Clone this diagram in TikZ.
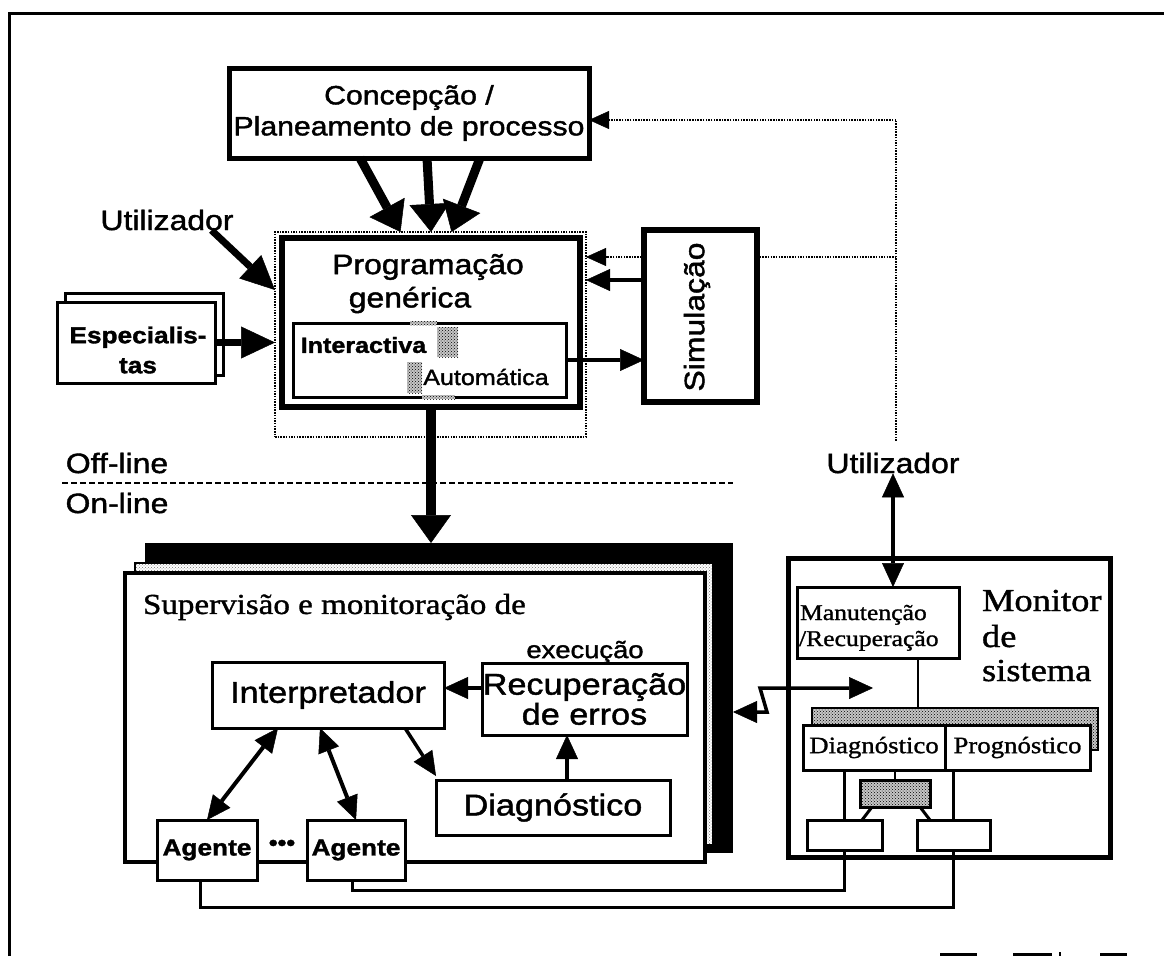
\documentclass[tikz,border=0pt]{standalone}
\usepackage{fontspec}
\setmainfont[FakeStretch=1.14,FakeBold=1.5]{Liberation Sans}
\newfontfamily\serx[FakeStretch=1.14,FakeBold=1.2]{Liberation Serif}
\usetikzlibrary{arrows.meta,patterns}
\newcommand{\myfs}[2]{\fontsize{#1}{#2}\selectfont}
\tikzset{
  every node/.style={inner sep=0pt, outer sep=0pt},
  boxth/.style={draw, line width=5pt, fill=white},
  boxmd/.style={draw, line width=3pt, fill=white},
  dotln/.style={line width=2pt, dash pattern=on 1.5pt off 1.2pt},
  dottip/.style={-{Triangle[length=20pt 0 0, width=18pt 0 0, line width=0.5pt]}},
  bigarr/.style={line width=10pt, -{Triangle[length=28pt 0 0, width=40pt 0 0, line width=0.5pt]}},
  medarr/.style={line width=7pt, -{Triangle[length=34pt 0 0, width=32pt 0 0, line width=0.5pt]}},
  smarr/.style={line width=3.5pt, -{Triangle[length=24pt 0 0, width=22pt 0 0, line width=0.5pt]}},
  dblarr/.style={line width=4pt, {Triangle[length=24pt 0 0, width=22pt 0 0, line width=0.5pt]}-{Triangle[length=24pt 0 0, width=22pt 0 0, line width=0.5pt]}},
  hatch/.style={draw, line width=1.2pt, preaction={fill=gray!45}, pattern=crosshatch dots, pattern color=black},
  lab/.style={font=\myfs{28}{30}},
}
\begin{document}
\begin{tikzpicture}[x=1pt,y=-1pt]
\useasboundingbox (0,0) rectangle (1164,956);
% outer frame
\coordinate (frA) at (9,956);
\coordinate (frB) at (9,13);
\coordinate (frC) at (1164,13);
\draw[line width=3pt] (frA) -- (frB) -- (frC);

% Concepcao
\node[boxth, minimum width=360pt, minimum height=90pt, align=center, font=\myfs{26.5}{31}] (conc) at (409,113) {Concepção /\\Planeamento de processo};

% Programacao
\node[draw, dotln, minimum width=311pt, minimum height=205pt] (progo) at (430.5,334.5) {};
\node[draw, line width=6pt, minimum width=298pt, minimum height=169pt] (progi) at (431,322.5) {};
\node[lab] (progt1) at (428,267) {Programação};
\node[lab] (progt2) at (410,300) {genérica};
\node[boxmd, minimum width=273pt, minimum height=74pt] (mode) at (429.5,360) {};
\node[hatch, draw=none, minimum width=27pt, minimum height=4pt] (h3) at (423.5,323) {};
\node[hatch, draw=none, minimum width=33pt, minimum height=4pt] (h4) at (438.5,397) {};
\node[font=\bfseries\myfs{22}{24}] (inter) at (363.5,345) {Interactiva};
\node[font=\myfs{22}{24}] (auto) at (486,377) {Automática};
\node[hatch, draw=none, minimum width=21pt, minimum height=30pt] (h1) at (447.5,342) {};
\node[hatch, draw=none, minimum width=15pt, minimum height=31pt] (h2) at (414.5,377.5) {};

% arrows from Concepcao
\draw[bigarr, line width=9pt] ([xshift=-49pt]conc.south) -- ([xshift=-30pt]progo.north);
\draw[bigarr, line width=9pt] ([xshift=18pt]conc.south) -- ([xshift=0.5pt]progo.north);
\draw[bigarr, line width=9pt] ([xshift=71pt]conc.south) -- ([xshift=21pt]progo.north);

% Utilizador (left)
\node[lab] (utl) at (167,220) {Utilizador};
\draw[medarr] ([xshift=-22pt]utl.south east) -- ([yshift=44.5pt]progo.west);

% Especialistas
\node[boxmd, minimum width=158pt, minimum height=82pt] (espb) at (144,334) {};
\node[boxmd, minimum width=158pt, minimum height=81pt] (espf) at (136,342.5) {};
\node[font=\bfseries\myfs{23}{30}, align=center] (espt) at (138,350) {Especialis-\\tas};
\draw[medarr] (espf.east) -- (espf.east -| progo.west);

% Simulacao
\node[boxth, line width=6pt, minimum width=113pt, minimum height=172pt] (sim) at (700.5,316) {};
\node[lab, rotate=90] (simt) at (697,317) {Simulação};
\draw[dotln, dottip] ([yshift=59pt]sim.west) -- ([yshift=59pt]sim.west -| progo.east);
\draw[smarr] ([yshift=36pt]sim.west) -- ([yshift=36pt]sim.west -| progo.east);
\draw[smarr] (mode.east) -- (mode.east -| sim.west);

% feedback dotted line
\coordinate (vtop) at (896,120);
\node[lab] (utr) at (893,463) {Utilizador};
\draw[dotln] ([yshift=12pt]utr.north -| vtop) -- (vtop);
\draw[dotln, dottip] (vtop) -- (vtop -| conc.east);
\draw[dotln] ([yshift=59pt]sim.east) -- ([yshift=59pt]sim.east -| vtop);

% Off-line / On-line
\node[lab] (offl) at (117,463) {Off-line};
\node[lab] (onl) at (117,503) {On-line};
\coordinate (dashL) at (62,483);
\coordinate (dashR) at (733,483);
\draw[line width=2.5pt, dash pattern=on 6pt off 3pt] (dashL) -- (dashR);

% Supervisao stack
\node[fill=black, minimum width=588pt, minimum height=310pt] (sblack) at (439,698) {};
\node[draw, line width=1.2pt, preaction={fill=white}, pattern=crosshatch dots, pattern color=black!55, minimum width=578pt, minimum height=282pt] (shat) at (424,704) {};
\node[draw, fill=white, line width=4pt, minimum width=580pt, minimum height=289pt] (sfront) at (415,717.5) {};
\draw[bigarr] (progi.south) -- (progi.south |- sblack.north);

\node[anchor=west, font=\serx\myfs{29}{31}] (suptxt) at (143,607) {Supervisão e monitoração de};
\node[font=\myfs{24}{26}] (exec) at (585,652) {execução};
\node[boxmd, minimum width=232pt, minimum height=66pt, font=\myfs{30}{32}] (interp) at (328,695) {Interpretador};
\node[boxmd, minimum width=205pt, minimum height=72pt, align=center, font=\myfs{30}{30}] (recup) at (584.5,699) {Recuperação\\de erros};
\node[boxmd, minimum width=234pt, minimum height=55pt, font=\myfs{30}{32}] (diag) at (553,807.5) {Diagnóstico};
\node[boxmd, minimum width=100pt, minimum height=60pt, font=\bfseries\myfs{23}{25}] (ag1) at (207,850) {Agente};
\node[boxmd, minimum width=98pt, minimum height=60pt, font=\bfseries\myfs{23}{25}] (ag2) at (356,850) {Agente};
\node[font=\bfseries\myfs{22}{22}] (dots) at (282,845) {•••};

\draw[smarr] ([yshift=11pt]recup.west) -- ([yshift=11pt]recup.west -| interp.east);
\draw[smarr] ([xshift=14pt]diag.north) -- ([xshift=14pt]diag.north |- recup.south);
\draw[smarr] ([xshift=-39pt]interp.south east) -- ([yshift=4pt]diag.north west);
\draw[dblarr] ([xshift=-50pt]interp.south) -- (ag1.north);
\draw[dblarr] ([xshift=-8pt]interp.south) -- (ag2.north);

% Monitor de sistema
\node[boxth, minimum width=322pt, minimum height=299pt] (mon) at (949,707.5) {};
\node[anchor=base west, font=\serx\myfs{32}{36}] (mon1) at (982,611) {Monitor};
\node[anchor=base west, font=\serx\myfs{32}{36}] (mon2) at (982,647) {de};
\node[anchor=base west, font=\serx\myfs{32}{36}] (mon3) at (982,681) {sistema};

\node[boxmd, minimum width=162pt, minimum height=71pt] (mant) at (878,622.5) {};
\node[anchor=base west, font=\serx\myfs{22.5}{24}] (mt1) at (800,620) {Manutenção};
\node[anchor=base west, font=\serx\myfs{22.5}{24}] (mt2) at (799,646) {/Recuperação};
\draw[dblarr] (utr.south) -- (utr.south |- mant.north);

\node[hatch, minimum width=286pt, minimum height=42pt] (dpb) at (955,729) {};
\node[boxmd, minimum width=142pt, minimum height=45pt, font=\serx\myfs{23.5}{25}] (mdiag) at (874,747.5) {Diagnóstico};
\node[boxmd, minimum width=145pt, minimum height=45pt, font=\serx\myfs{23.5}{25}] (mprog) at (1017.5,747.5) {Prognóstico};
\draw[line width=2.5pt] ([xshift=40pt]mant.south) -- ([xshift=40pt]mant.south |- dpb.north);

\node[hatch, line width=3pt, minimum width=70pt, minimum height=27pt] (mhat) at (895,793.5) {};
\draw[line width=2.5pt] (mhat.north) -- (mhat.north |- mdiag.south);
\node[boxmd, minimum width=75pt, minimum height=30pt] (mb1) at (844.5,835) {};
\node[boxmd, minimum width=73pt, minimum height=30pt] (mb2) at (953.5,835) {};
\draw[line width=2.5pt] (mb1.north |- mdiag.south) -- (mb1.north);
\draw[line width=2.5pt] (mb2.north |- mprog.south) -- (mb2.north);
\draw[line width=3pt] ([xshift=12pt]mhat.south west) -- ([xshift=-20pt]mb1.north east);
\draw[line width=3pt] ([xshift=-10pt]mhat.south east) -- ([xshift=13pt]mb2.north west);

% zigzag link
\coordinate (zz) at (873,688);
\draw[dblarr, line width=3.5pt] ([yshift=-14pt]sblack.east) -- ++(34,0) -- ++(-7,-24) -- (zz);

% bottom links
\coordinate (bl1) at (953.5,907);
\coordinate (bl2) at (844.5,890);
\draw[line width=3pt] ([xshift=-7pt]ag1.south) -- ([xshift=-7pt]ag1.south |- bl1) -- (bl1) -- (mb2.south);
\draw[line width=3pt] ([xshift=-4pt]ag2.south) -- ([xshift=-4pt]ag2.south |- bl2) -- (bl2) -- (mb1.south);

% scan marks at the bottom edge
\fill (940,953) rectangle (977,956);
\fill (1013,953) rectangle (1052,956);
\fill (1059,952) rectangle (1061,956);
\fill (1100,953) rectangle (1127,956);
\end{tikzpicture}
\end{document}
